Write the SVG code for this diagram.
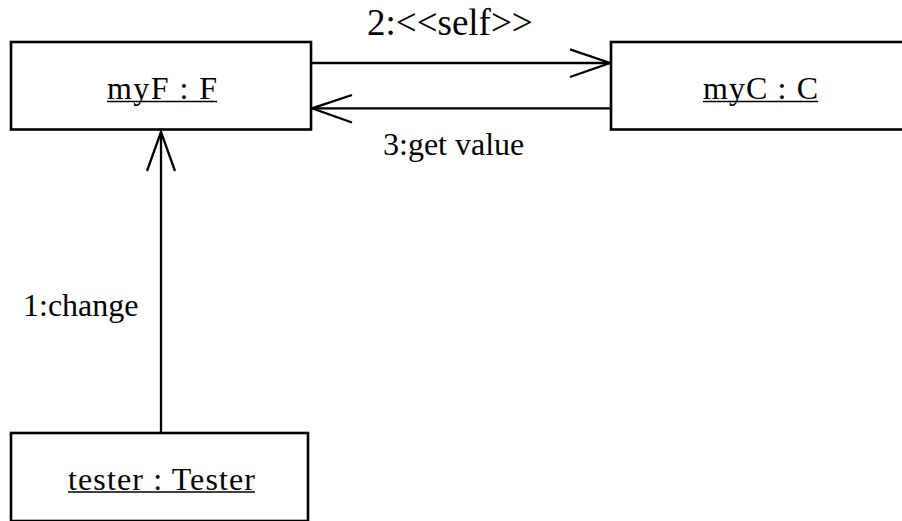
<svg xmlns="http://www.w3.org/2000/svg" width="902" height="521" viewBox="0 0 902 521">
<style>
.box{fill:#fff;stroke:#000;stroke-width:2.6}
.ln{fill:none;stroke:#000;stroke-width:2.3;stroke-linejoin:miter}
.ul{stroke:#000;stroke-width:1.6}
.name{font-family:"Liberation Serif","Times New Roman",serif;font-size:32px;fill:#000}
.lbl{font-family:"Liberation Serif","Times New Roman",serif;font-size:32px;fill:#000}
</style>
<rect width="902" height="521" fill="#fff"/>
<g id="connectors">
<line class="ln" x1="311" y1="63" x2="610" y2="63"/>
<polyline class="ln" points="570,49.3 610,63 570,77"/>
<line class="ln" x1="611" y1="108.3" x2="312" y2="108.3"/>
<polyline class="ln" points="352,95 312,108.3 352,122.5"/>
<line class="ln" x1="161" y1="433" x2="161" y2="132"/>
<polyline class="ln" points="147,171 161,132 175,171"/>
<text class="lbl" x="367" y="35" style="font-size:37px">2:&lt;&lt;self&gt;&gt;</text>
<text class="lbl" x="383" y="155">3:get value</text>
<text class="lbl" x="23" y="315.5">1:change</text>
</g>
<g id="myF">
<rect class="box" x="11" y="42" width="300" height="87.5"/>
<text class="name" x="107" y="99" textLength="110">myF : F</text>
<line class="ul" x1="107" y1="101.5" x2="217" y2="101.5"/>
</g>
<g id="myC">
<rect class="box" x="611" y="42" width="300" height="87.5"/>
<text class="name" x="703" y="99" textLength="115">myC : C</text>
<line class="ul" x1="703" y1="101.5" x2="818" y2="101.5"/>
</g>
<g id="tester">
<rect class="box" x="11" y="433" width="297" height="88"/>
<text class="name" x="68" y="490" textLength="187">tester : Tester</text>
<line class="ul" x1="68" y1="492" x2="255" y2="492"/>
</g>
</svg>
